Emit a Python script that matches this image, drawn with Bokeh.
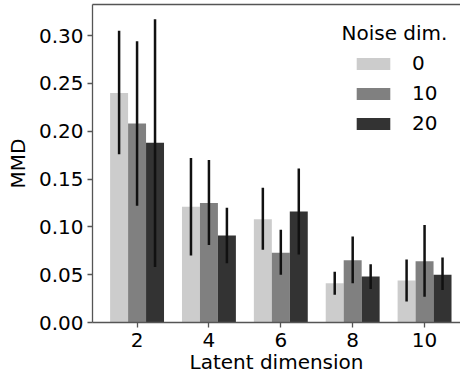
from bokeh.plotting import figure
from bokeh.models import (ColumnDataSource, Range1d, FixedTicker, NumeralTickFormatter,
                          Legend, LegendItem, LinearAxis, Label)
from bokeh.transform import dodge
from bokeh.embed import file_html
from bokeh.resources import INLINE

latent_dims = [2, 4, 6, 8, 10]
noise_labels = ["0", "10", "20"]
colors = ["#cccccc", "#808080", "#333333"]

mmd_noise0 = [0.240, 0.121, 0.108, 0.041, 0.044]
lo_noise0 = [0.176, 0.070, 0.076, 0.029, 0.022]
hi_noise0 = [0.305, 0.172, 0.141, 0.053, 0.066]

mmd_noise10 = [0.208, 0.125, 0.073, 0.065, 0.064]
lo_noise10 = [0.122, 0.081, 0.050, 0.041, 0.027]
hi_noise10 = [0.294, 0.170, 0.097, 0.090, 0.102]

mmd_noise20 = [0.188, 0.091, 0.116, 0.048, 0.050]
lo_noise20 = [0.058, 0.062, 0.071, 0.035, 0.034]
hi_noise20 = [0.317, 0.120, 0.161, 0.061, 0.068]

y_ticks = [0.0, 0.05, 0.10, 0.15, 0.20, 0.25, 0.30]

FONT = "DejaVu Sans"
FS = "20px"

p = figure(width=460, height=376, output_backend="svg", toolbar_location=None,
           x_range=Range1d(0.76, 11.0), y_range=Range1d(0.0, 0.3325),
           min_border_left=92, min_border_right=0, min_border_top=4, min_border_bottom=53)
p.outline_line_color = None
p.grid.visible = False
p.background_fill_color = "white"

series = [(mmd_noise0, lo_noise0, hi_noise0), (mmd_noise10, lo_noise10, hi_noise10),
          (mmd_noise20, lo_noise20, hi_noise20)]
offsets = [-0.5, 0.0, 0.5]
items = []
for (vals, lo, hi), off, col, lab in zip(series, offsets, colors, noise_labels):
    src = ColumnDataSource(dict(x=latent_dims, top=vals, lo=lo, hi=hi))
    r = p.vbar(x=dodge("x", off, range=p.x_range), top="top", bottom=0, width=0.5,
               source=src, fill_color=col, line_color=None)
    p.segment(x0=dodge("x", off, range=p.x_range), y0="lo",
              x1=dodge("x", off, range=p.x_range), y1="hi",
              source=src, line_color="#111111", line_width=2.5)
    items.append(LegendItem(label=lab, renderers=[r]))

legend = Legend(items=items, location=(260, 187), padding=0, margin=0,
                glyph_width=42, glyph_height=15, label_standoff=18, spacing=6,
                label_text_font=FONT, label_text_font_size=FS, label_text_color="black",
                border_line_color=None, background_fill_alpha=0)
p.add_layout(legend, "center")

# legend title, centred over the legend entries
p.add_layout(Label(x=302, y=290, x_units="screen", y_units="screen", text="Noise dim.",
                   text_font=FONT, text_font_size=FS, text_align="center",
                   text_baseline="alphabetic", text_color="black"))

axis_col = "#555555"
for ax in (p.xaxis[0], p.yaxis[0]):
    ax.axis_line_color = axis_col
    ax.axis_line_width = 1.3
    ax.major_tick_line_color = axis_col
    ax.major_tick_line_width = 1.3
    ax.major_tick_out = 5
    ax.major_tick_in = 0
    ax.minor_tick_line_color = None
    ax.major_label_text_font = FONT
    ax.major_label_text_font_size = FS
    ax.major_label_text_color = "black"
    ax.axis_label_text_font = FONT
    ax.axis_label_text_font_size = FS
    ax.axis_label_text_font_style = "normal"
    ax.axis_label_text_color = "black"
    ax.major_label_standoff = 4

p.xaxis[0].ticker = FixedTicker(ticks=latent_dims)
p.xaxis[0].major_label_standoff = 5
p.xaxis[0].axis_label = "Latent dimension"
p.xaxis[0].axis_label_standoff = 0
p.yaxis[0].ticker = FixedTicker(ticks=y_ticks)
p.yaxis[0].formatter = NumeralTickFormatter(format="0.00")
p.yaxis[0].axis_label = "MMD"
p.yaxis[0].axis_label_standoff = 6

top_axis = LinearAxis(ticker=FixedTicker(ticks=[]), axis_line_color=axis_col,
                      axis_line_width=1.3, major_label_text_font_size="0px",
                      major_tick_out=0, major_tick_in=0, major_label_standoff=0,
                      major_tick_line_color=None, minor_tick_line_color=None)
p.add_layout(top_axis, "above")

open("out.html", "w").write(file_html(p, INLINE))
